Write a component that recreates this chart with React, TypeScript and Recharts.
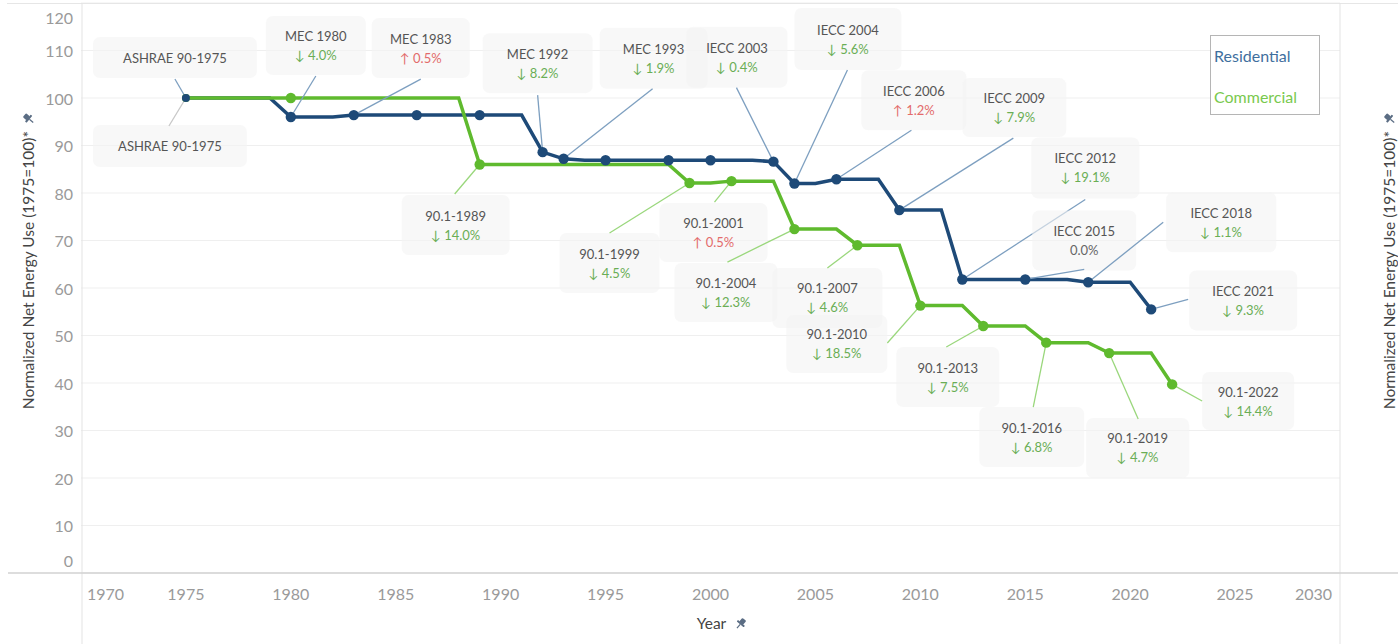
import React from 'react';
import { LineChart, Line, XAxis, YAxis, CartesianGrid, ReferenceDot, Legend, Customized } from 'recharts';

// ---------------- data ----------------
const years = [
  1975, 1976, 1977, 1978, 1979, 1980, 1981, 1982, 1983, 1984, 1985, 1986, 1987, 1988, 1989, 1990,
  1991, 1992, 1993, 1994, 1995, 1996, 1997, 1998, 1999, 2000, 2001, 2002, 2003, 2004, 2005, 2006,
  2007, 2008, 2009, 2010, 2011, 2012, 2013, 2014, 2015, 2016, 2017, 2018, 2019, 2020, 2021, 2022,
];
const residential = [
  100, 100, 100, 100, 100, 96.0, 96.0, 96.0, 96.4, 96.4, 96.4, 96.4, 96.4, 96.4, 96.4, 96.4,
  96.4, 88.6, 87.2, 86.9, 86.9, 86.9, 86.9, 86.9, 86.9, 86.9, 86.9, 86.9, 86.6, 82.0, 82.0, 82.9,
  82.9, 82.9, 76.4, 76.4, 76.4, 61.8, 61.8, 61.8, 61.8, 61.8, 61.8, 61.2, 61.2, 61.2, 55.5, null,
];
const commercial = [
  100, 100, 100, 100, 100, 100, 100, 100, 100, 100, 100, 100, 100, 100, 86.0, 86.0,
  86.0, 86.0, 86.0, 86.0, 86.0, 86.0, 86.0, 86.0, 82.1, 82.1, 82.5, 82.5, 82.5, 72.4, 72.4, 72.4,
  69.0, 69.0, 69.0, 56.3, 56.3, 56.3, 52.0, 52.0, 52.0, 48.5, 48.5, 48.5, 46.3, 46.3, 46.3, 39.7,
];
const residentialMarkerYears = [1975, 1980, 1983, 1986, 1989, 1992, 1993, 1995, 1998, 2000, 2003, 2004, 2006, 2009, 2012, 2015, 2018, 2021];
const commercialMarkerYears = [1975, 1980, 1989, 1999, 2001, 2004, 2007, 2010, 2013, 2016, 2019, 2022];

const xTicks = [1970, 1975, 1980, 1985, 1990, 1995, 2000, 2005, 2010, 2015, 2020, 2025, 2030];
const yTicks = [0, 10, 20, 30, 40, 50, 60, 70, 80, 90, 100, 110, 120];

const residentialCodes = ['ASHRAE 90-1975', 'MEC 1980', 'MEC 1983', 'MEC 1992', 'MEC 1993', 'IECC 2003', 'IECC 2004', 'IECC 2006', 'IECC 2009', 'IECC 2012', 'IECC 2015', 'IECC 2018', 'IECC 2021'];
const residentialCodeYears = [1975, 1980, 1983, 1992, 1993, 2003, 2004, 2006, 2009, 2012, 2015, 2018, 2021];
const residentialChanges = ['', '↓ 4.0%', '↑ 0.5%', '↓ 8.2%', '↓ 1.9%', '↓ 0.4%', '↓ 5.6%', '↑ 1.2%', '↓ 7.9%', '↓ 19.1%', '0.0%', '↓ 1.1%', '↓ 9.3%'];

const commercialCodes = ['ASHRAE 90-1975', '90.1-1989', '90.1-1999', '90.1-2001', '90.1-2004', '90.1-2007', '90.1-2010', '90.1-2013', '90.1-2016', '90.1-2019', '90.1-2022'];
const commercialCodeYears = [1975, 1989, 1999, 2001, 2004, 2007, 2010, 2013, 2016, 2019, 2022];
const commercialChanges = ['', '↓ 14.0%', '↓ 4.5%', '↑ 0.5%', '↓ 12.3%', '↓ 4.6%', '↓ 18.5%', '↓ 7.5%', '↓ 6.8%', '↓ 4.7%', '↓ 14.4%'];

// ---------------- layout (pixel offsets of callouts relative to their point) ----------------
const residentialCallouts = [
  { bx: -11, by: -40.5, w: 164, h: 41, lx: -11, ly: -19 },
  { bx: 25, by: -71.5, w: 100, h: 59, lx: 25, ly: -41 },
  { bx: 67, by: -67, w: 98, h: 60, lx: 67, ly: -36 },
  { bx: -5, by: -89, w: 110, h: 60, lx: -5, ly: -57 },
  { bx: 90, by: -100.5, w: 108, h: 61, lx: 89, ly: -70 },
  { bx: -36.5, by: -104.5, w: 101, h: 61, lx: -37, ly: -74 },
  { bx: 53.5, by: -144.5, w: 107, h: 62, lx: 53, ly: -113.5 },
  { bx: 77.5, by: -79, w: 105, h: 60, lx: 75, ly: -49 },
  { bx: 115, by: -102.5, w: 104, h: 59, lx: 114, ly: -72 },
  { bx: 123, by: -111.5, w: 108, h: 61, lx: 123, ly: -80 },
  { bx: 59, by: -39, w: 104, h: 60, lx: 59, ly: -10 },
  { bx: 133, by: -60, w: 110, h: 60, lx: 75, ly: -60 },
  { bx: 92, by: -9, w: 108, h: 60, lx: 37, ly: -10 },
];
const commercialCallouts = [
  { bx: -16, by: 48, w: 154, h: 42, lx: -17, ly: 28 },
  { bx: -24, by: 60.5, w: 108, h: 60, lx: -25, ly: 29.5 },
  { bx: -80, by: 80, w: 100, h: 60, lx: -80, ly: 50 },
  { bx: -18, by: 51.4, w: 108, h: 59, lx: -17, ly: 21 },
  { bx: -68.5, by: 63.4, w: 103, h: 59, lx: -67, ly: 33 },
  { bx: -30, by: 52.7, w: 110, h: 60, lx: -30, ly: 22.7 },
  { bx: -83.5, by: 38.4, w: 101, h: 58, lx: -33, ly: 37.4 },
  { bx: -35.5, by: 51, w: 103, h: 60, lx: -37, ly: 21 },
  { bx: -14.5, by: 94.4, w: 105, h: 60, lx: -13, ly: 64.4 },
  { bx: 28.5, by: 94.9, w: 103, h: 60, lx: 29, ly: 65.9 },
  { bx: 76, by: 16.6, w: 92, h: 58, lx: 30, ly: 16.6 },
];

const W = 1398;
const H = 644;
const PLOT_LEFT = 81;
const PLOT_RIGHT = 1340;
const PLOT_TOP = 3;
const PLOT_BOTTOM = 573;

const BLUE = '#1e4a78';
const GREEN = '#5fba2e';
const BLUE_LEADER = '#7d9fc0';
const GREEN_LEADER = '#9ad77c';
const TXT_GREEN = '#6aae55';
const TXT_RED = '#e36b6b';
const FONT = "Lato, 'Open Sans', sans-serif";

const data = years.map((y, i) => ({ year: y, residential: residential[i], commercial: commercial[i] }));

const makeDot = (markers: number[], color: string) => (props: any) => {
  const { cx, cy, payload, index } = props;
  if (cx == null || cy == null || !payload || !markers.includes(payload.year)) {
    return <g key={`nd-${color}-${index}`} />;
  }
  const r = payload.year === 1975 ? 4 : 5.2;
  return <circle key={`d-${color}-${index}`} cx={cx} cy={cy} r={r} fill={color} stroke="none" />;
};

const changeColor = (c: string) => (c.startsWith('↑') ? TXT_RED : c.startsWith('↓') ? TXT_GREEN : '#666');

const Callout = ({ cx, cy, title, change, lay, leader }: any) => {
  if (cx == null || cy == null) return <g />;
  const bx = cx + lay.bx;
  const by = cy + lay.by;
  return (
    <g>
      <rect x={bx - lay.w / 2} y={by - lay.h / 2} width={lay.w} height={lay.h} rx={7} fill="#f4f4f4" fillOpacity={0.6} />
      <line x1={cx + lay.lx} y1={cy + lay.ly} x2={cx} y2={cy} stroke={leader} strokeWidth={1.3} />
      {change ? (
        <g fontFamily={FONT} fontSize={13} textAnchor="middle">
          <text x={bx} y={by - 9.5} dominantBaseline="central" fill="#555">{title}</text>
          <text x={bx} y={by + 9.5} dominantBaseline="central" fill={changeColor(change)}>{change}</text>
        </g>
      ) : (
        <text x={bx} y={by} dominantBaseline="central" textAnchor="middle" fontFamily={FONT} fontSize={13} fill="#555">{title}</text>
      )}
    </g>
  );
};

const Pin = ({ x, y, rot = 0 }: any) => (
  <g transform={`translate(${x},${y}) rotate(${rot})`} fill="#5b6d84">
    <rect x={-2.5} y={-6} width={5} height={5} rx={1} />
    <rect x={-4.5} y={-1.5} width={9} height={2} rx={0.5} />
    <rect x={-0.6} y={0.5} width={1.2} height={5} />
  </g>
);

const XTick = (props: any) => {
  const { x, y, payload } = props;
  let tx = x;
  let anchor = 'middle';
  if (payload.value === 1970) { tx = x + 6; anchor = 'start'; }
  if (payload.value === 2030) { tx = x - 8; anchor = 'end'; }
  return (
    <text x={tx} y={y + 12} textAnchor={anchor} dominantBaseline="central" fontFamily={FONT} fontSize={16} fill="#9a9a9a">
      {payload.value}
    </text>
  );
};

const YTick = (props: any) => {
  const { x, y, payload, textAnchor } = props;
  let dy = 0;
  if (payload.value === 120) dy = 14;
  if (payload.value === 0) dy = -13;
  return (
    <text x={x} y={y + dy} textAnchor={textAnchor} dominantBaseline="central" fontFamily={FONT} fontSize={16} fill="#9a9a9a">
      {payload.value}
    </text>
  );
};

const YTitle = (props: any) => {
  const { viewBox, side } = props;
  const vb = viewBox || { x: 0, y: PLOT_TOP, width: 81, height: PLOT_BOTTOM - PLOT_TOP };
  const cx = side === 'left' ? vb.x + 28 : vb.x + vb.width - 9;
  const cy = vb.y + vb.height / 2 - 7;
  return (
    <g transform={`translate(${cx},${cy}) rotate(-90)`}>
      <text x={150} y={0} textAnchor="end" dominantBaseline="central" fontFamily={FONT} fontSize={15.5} fill="#444">
        Normalized Net Energy Use (1975=100)*
      </text>
      <Pin x={162} y={1} rot={40} />
    </g>
  );
};

const XTitle = (props: any) => {
  const { viewBox } = props;
  const vb = viewBox || { x: PLOT_LEFT, y: PLOT_BOTTOM, width: PLOT_RIGHT - PLOT_LEFT, height: H - PLOT_BOTTOM };
  const cx = vb.x + vb.width / 2;
  const cy = vb.y + 50;
  return (
    <g>
      <text x={cx + 1} y={cy} textAnchor="middle" dominantBaseline="central" fontFamily={FONT} fontSize={15.5} fill="#444">Year</text>
      <Pin x={cx + 30} y={cy + 1} rot={40} />
    </g>
  );
};

const Frame = () => (
  <g>
    <line x1={7} y1={PLOT_TOP + 0.5} x2={W} y2={PLOT_TOP + 0.5} stroke="#e6e6e6" strokeWidth={1} />
    <line x1={PLOT_LEFT + 1} y1={PLOT_TOP} x2={PLOT_LEFT + 1} y2={H} stroke="#e3e3e3" strokeWidth={1} />
    <line x1={PLOT_RIGHT} y1={PLOT_TOP} x2={PLOT_RIGHT} y2={H} stroke="#e3e3e3" strokeWidth={1} />
    <line x1={8} y1={PLOT_BOTTOM} x2={W} y2={PLOT_BOTTOM} stroke="#d2d2d2" strokeWidth={1.5} />
  </g>
);

const LegendBox = () => (
  <div
    style={{
      width: 108,
      height: 78,
      border: '1px solid #b5b5b5',
      fontFamily: FONT,
      fontSize: 16,
      position: 'relative',
      background: '#fff',
    }}
  >
    <div style={{ position: 'absolute', left: 3, top: 10, color: '#3f6f9e' }}>Residential</div>
    <div style={{ position: 'absolute', left: 3, top: 51, color: '#79c94e' }}>Commercial</div>
  </div>
);

const valueAt = (series: (number | null)[], year: number) => series[years.indexOf(year)];

export default function App() {
  return (
    <div style={{ position: 'absolute', left: 0, top: 0, width: W, height: H, background: '#fff' }}>
      <LineChart width={W} height={H} data={data} margin={{ top: PLOT_TOP, right: 0, bottom: 0, left: 0 }}>
        <CartesianGrid yAxisId="left" horizontal vertical={false} stroke="#efefef" strokeWidth={1} />
        <Customized component={Frame} />
        <XAxis
          dataKey="year"
          type="number"
          domain={[1970, 2030]}
          ticks={xTicks}
          height={H - PLOT_BOTTOM}
          axisLine={false}
          tickLine={false}
          tick={<XTick />}
          interval={0}
          allowDataOverflow
          label={<XTitle />}
        />
        <YAxis
          yAxisId="left"
          orientation="left"
          width={PLOT_LEFT}
          domain={[0, 120]}
          ticks={yTicks}
          interval={0}
          axisLine={false}
          tickLine={false}
          tick={<YTick />}
          label={<YTitle side="left" />}
        />
        <YAxis
          yAxisId="right"
          orientation="right"
          width={W - PLOT_RIGHT}
          domain={[0, 120]}
          ticks={yTicks}
          interval={0}
          axisLine={false}
          tickLine={false}
          tick={<YTick />}
          label={<YTitle side="right" />}
        />
        {residentialCodeYears.map((yr, i) => (
          <ReferenceDot
            key={`rc-${yr}`}
            yAxisId="left"
            x={yr}
            y={valueAt(residential, yr) as number}
            r={0}
            ifOverflow="visible"
            shape={(p: any) => (
              <Callout cx={p.cx} cy={p.cy} title={residentialCodes[i]} change={residentialChanges[i]} lay={residentialCallouts[i]} leader={BLUE_LEADER} />
            )}
          />
        ))}
        {commercialCodeYears.map((yr, i) => (
          <ReferenceDot
            key={`cc-${yr}`}
            yAxisId="left"
            x={yr}
            y={valueAt(commercial, yr) as number}
            r={0}
            ifOverflow="visible"
            shape={(p: any) => (
              <Callout cx={p.cx} cy={p.cy} title={commercialCodes[i]} change={commercialChanges[i]} lay={commercialCallouts[i]} leader={i === 0 ? '#c8c8c8' : GREEN_LEADER} />
            )}
          />
        ))}
        <Line
          yAxisId="left"
          type="linear"
          dataKey="residential"
          name="Residential"
          stroke={BLUE}
          strokeWidth={3.5}
          dot={false}
          activeDot={false}
          isAnimationActive={false}
        />
        <Line
          yAxisId="left"
          type="linear"
          dataKey="commercial"
          name="Commercial"
          stroke={GREEN}
          strokeWidth={3.5}
          dot={makeDot(commercialMarkerYears, GREEN)}
          activeDot={false}
          isAnimationActive={false}
        />
        <Line
          yAxisId="left"
          type="linear"
          dataKey="residential"
          name="Residential markers"
          stroke="none"
          strokeWidth={0}
          legendType="none"
          dot={makeDot(residentialMarkerYears, BLUE)}
          activeDot={false}
          isAnimationActive={false}
        />
        <Legend
          layout="vertical"
          align="center"
          verticalAlign="middle"
          wrapperStyle={{ position: 'absolute', left: 1210, top: 35, width: 110, height: 80 }}
          content={() => <LegendBox />}
        />
      </LineChart>
    </div>
  );
}
